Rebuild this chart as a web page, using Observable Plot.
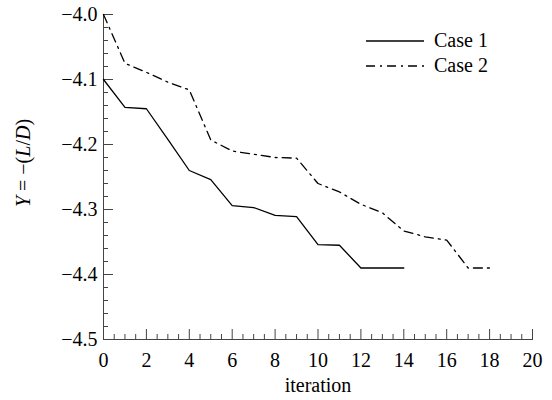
<!DOCTYPE html>
<html><head><meta charset="utf-8">
<script src="https://cdn.jsdelivr.net/npm/d3@7"></script>
<script src="https://cdn.jsdelivr.net/npm/@observablehq/plot@0.6"></script>
<style>
body{margin:0;background:#fff;}
#wrap{position:relative;width:552px;height:400px;font-family:"Liberation Serif",serif;}
#wrap svg, #wrap svg text{font-family:"Liberation Serif",serif !important;}
.legend{position:absolute;left:366px;top:28px;font-size:20px;color:#000;}
.legend .row{display:flex;align-items:center;height:25px;}
.legend svg{margin-right:10px;}
</style></head><body><div id="wrap"></div>
<script>
// Data
const iter1 = [0,1,2,3,4,5,6,7,8,9,10,11,12,13,14];
const case1 = [-4.100,-4.143,-4.145,-4.192,-4.240,-4.254,-4.294,-4.297,-4.309,-4.311,-4.354,-4.355,-4.390,-4.390,-4.390];
const iter2 = [0,1,2,3,4,5,6,7,8,9,10,11,12,13,14,15,16,17,18];
const case2 = [-4.000,-4.075,-4.089,-4.104,-4.116,-4.193,-4.210,-4.215,-4.220,-4.221,-4.260,-4.273,-4.292,-4.305,-4.333,-4.342,-4.347,-4.390,-4.390];
const seriesNames = ["Case 1","Case 2"];
const xMajor = [0,2,4,6,8,10,12,14,16,18,20];
const xMinor = d3.range(0,20.01,0.5).filter(v => v % 2 !== 0);
const yMajor = [-4.5,-4.4,-4.3,-4.2,-4.1,-4.0];
const yMinor = d3.range(-4.5,-3.999,0.02).map(v => +v.toFixed(2)).filter(v => Math.abs(v*10 - Math.round(v*10)) > 1e-6);
const xLabel = "iteration";

const rows1 = iter1.map((x,i)=>({x, y:case1[i], s:seriesNames[0]}));
const rows2 = iter2.map((x,i)=>({x, y:case2[i], s:seriesNames[1]}));
const dash2 = "9,5,2,5";
const axisColor = "#444";
const serif = "'Liberation Serif',serif";

const plot = Plot.plot({
  width:552, height:400,
  marginLeft:103, marginRight:20, marginTop:14, marginBottom:61,
  style:{fontFamily:serif, fontSize:"20px", color:"#000", background:"#fff"},
  x:{domain:[0,20]},
  y:{domain:[-4.5,-4.0]},
  marks:[
    Plot.frame({anchor:"left", stroke:axisColor}),
    Plot.frame({anchor:"bottom", stroke:axisColor}),
    Plot.axisX({ticks:xMajor, tickSize:0, tickPadding:13, tickFormat:d=>String(d), fontSize:20, label:xLabel, labelAnchor:"center", labelArrow:"none", labelOffset:52}),
    Plot.axisX({ticks:xMinor, tickSize:-5, text:null, label:null, stroke:axisColor}),
    Plot.axisX({ticks:xMajor, tickSize:-10, text:null, label:null, stroke:axisColor}),
    Plot.axisY({ticks:yMajor, tickSize:0, tickPadding:6, tickFormat:d3.format(".1f"), fontSize:20, label:null}),
    Plot.axisY({ticks:yMinor, tickSize:-5, text:null, label:null, stroke:axisColor}),
    Plot.axisY({ticks:yMajor, tickSize:-10, text:null, label:null, stroke:axisColor}),
    Plot.line(rows1, {x:"x", y:"y", stroke:"#000", strokeWidth:1.3}),
    Plot.line(rows2, {x:"x", y:"y", stroke:"#000", strokeWidth:1.3, strokeDasharray:dash2})
  ]
});

const wrap = document.getElementById("wrap");
wrap.appendChild(plot);

// y-axis label with math styling
const svg = d3.select(plot);
const t = svg.append("text")
  .attr("transform","translate(30,163) rotate(-90)")
  .attr("text-anchor","middle")
  .attr("font-size","20px")
  .attr("fill","#000");
[["Y",true],[" = −(",false],["L",true],["/",false],["D",true],[")",false]].forEach(([s,it])=>{
  t.append("tspan").text(s).attr("font-style", it ? "italic" : "normal");
});

// legend
const leg = document.createElement("div");
leg.className = "legend";
seriesNames.forEach((name,i)=>{
  const row = document.createElement("div");
  row.className = "row";
  row.innerHTML = `<svg width="58" height="10"><line x1="0" x2="58" y1="5" y2="5" stroke="#000" stroke-width="1.3" ${i===1?`stroke-dasharray="${dash2}"`:""}/></svg><span>${name}</span>`;
  leg.appendChild(row);
});
wrap.appendChild(leg);
</script>
</body></html>
